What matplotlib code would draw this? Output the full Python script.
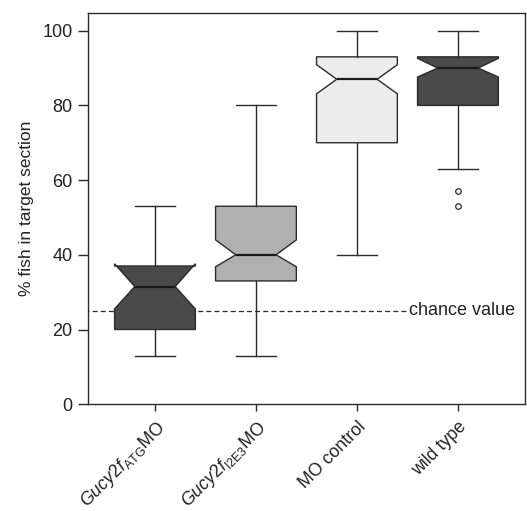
"""Notched boxplot — % fish in target section"""

import matplotlib

matplotlib.use("Agg")
import matplotlib.pyplot as plt

plt.rcParams["font.family"] = ["Liberation Sans", "DejaVu Sans"]
plt.rcParams["mathtext.fontset"] = "custom"
plt.rcParams["mathtext.rm"] = "Liberation Sans"
plt.rcParams["mathtext.it"] = "Liberation Sans:italic"

# 数据
labels = [
    r"$\mathit{Gucy2f}_{\mathrm{ATG}}$MO",
    r"$\mathit{Gucy2f}_{\mathrm{I2E3}}$MO",
    "MO control",
    "wild type",
]
whislo = [13, 13, 40, 63]
q1 = [20, 33, 70, 80]
med = [31.5, 40, 87, 90]
q3 = [37, 53, 93, 93]
whishi = [53, 80, 100, 100]
cilo = [25.5, 36.8, 83.1, 87.6]
cihi = [37.6, 44.0, 90.9, 92.6]
fliers = [[], [], [], [57, 53]]
box_colors = ["#4a4a4a", "#b0b0b0", "#ececec", "#4a4a4a"]
chance = 25

line_c = "#2b2b2b"
text_c = "#222222"

stats = []
for i in range(len(labels)):
    stats.append(dict(
        label=labels[i], whislo=whislo[i], q1=q1[i], med=med[i], q3=q3[i],
        whishi=whishi[i], cilo=cilo[i], cihi=cihi[i], fliers=fliers[i],
    ))

fig = plt.figure(figsize=(5.27, 5.11), dpi=100)
ax = fig.add_axes([0.167, 0.209, 0.829, 0.766])

bp = ax.bxp(
    stats,
    positions=[1, 2, 3, 4],
    widths=0.8,
    shownotches=True,
    patch_artist=True,
    boxprops=dict(edgecolor=line_c, linewidth=1.0),
    whiskerprops=dict(color=line_c, linewidth=1.0),
    capprops=dict(color=line_c, linewidth=1.0),
    medianprops=dict(color="#1a1a1a", linewidth=1.6),
    flierprops=dict(marker="o", markersize=4, markerfacecolor="white",
                    markeredgecolor=line_c, markeredgewidth=0.9),
)
for patch, c in zip(bp["boxes"], box_colors):
    patch.set_facecolor(c)

# 机会水平虚线
ax.plot([0.3, 3.5], [chance, chance], linestyle="--", color=line_c,
        linewidth=0.9, dashes=(4, 2.5), zorder=0)
ax.text(3.52, chance, "chance value", va="center", ha="left",
        fontsize=13, color=text_c)

ax.set_xlim(0.337, 4.663)
ax.set_ylim(0, 104.8)
ax.set_yticks([0, 20, 40, 60, 80, 100])
ax.set_ylabel("% fish in target section", fontsize=12.5, color=text_c,
              labelpad=6)
ax.set_xticks([1, 2, 3, 4])
ax.set_xticklabels(labels, rotation=45, ha="right", va="top",
                   rotation_mode="anchor", fontsize=12.8)
ax.tick_params(axis="y", labelsize=13, length=7.5, width=1, color=line_c,
               labelcolor=text_c, pad=3.5)
ax.tick_params(axis="x", length=5, width=1, color=line_c,
               labelcolor=text_c, pad=5)
for s in ax.spines.values():
    s.set_color(line_c)
    s.set_linewidth(1.0)

fig.savefig("out.png", dpi=100)
